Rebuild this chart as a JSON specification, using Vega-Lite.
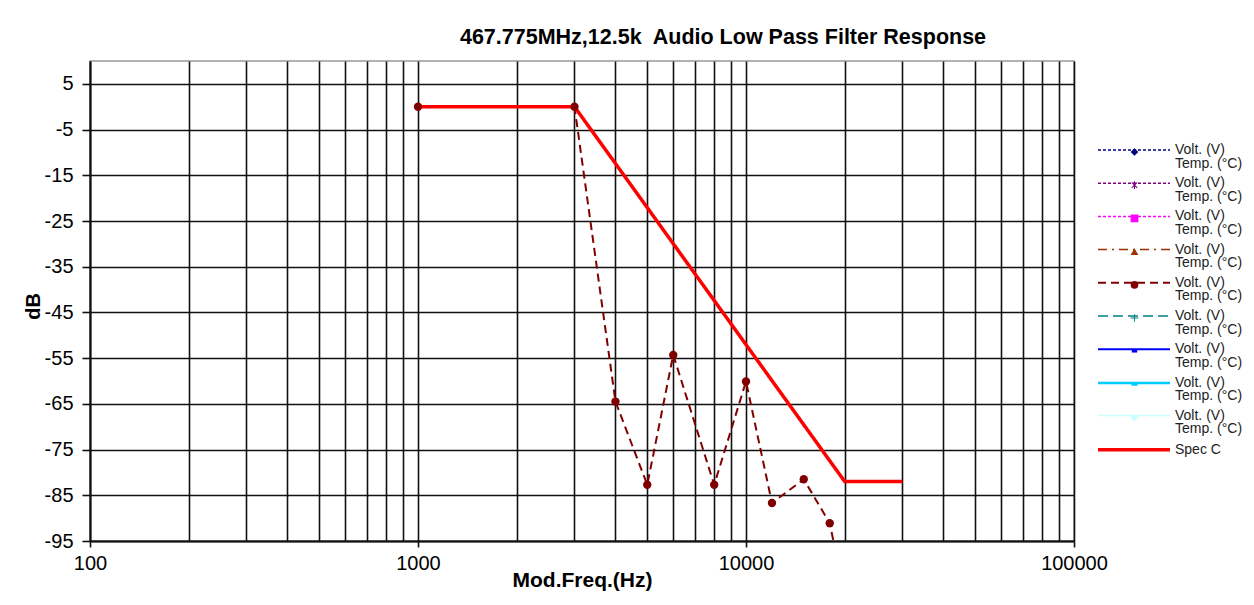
{
  "$schema": "https://vega.github.io/schema/vega-lite/v6.json",
  "width": 984,
  "height": 480,
  "autosize": {"type": "none"},
  "padding": {"left": 90, "top": 61, "right": 180, "bottom": 64},
  "background": "white",
  "title": {
    "text": "467.775MHz,12.5k\u00a0 Audio Low Pass Filter Response",
    "fontSize": 21.5,
    "fontWeight": "bold",
    "color": "#000",
    "anchor": "middle",
    "dx": 141,
    "offset": 13
  },
  "data": {
    "values": [
      {"freq": 1000, "db": 0, "series": "s5", "pseries": "p5"},
      {"freq": 3000, "db": 0, "series": "s5", "pseries": "p5"},
      {"freq": 4000, "db": -64.5, "series": "s5", "pseries": "p5"},
      {"freq": 5000, "db": -82.7, "series": "s5", "pseries": "p5"},
      {"freq": 6000, "db": -54.3, "series": "s5", "pseries": "p5"},
      {"freq": 8000, "db": -82.7, "series": "s5", "pseries": "p5"},
      {"freq": 10000, "db": -60.1, "series": "s5", "pseries": "p5"},
      {"freq": 12000, "db": -86.7, "series": "s5", "pseries": "p5"},
      {"freq": 15000, "db": -81.5, "series": "s5", "pseries": "p5"},
      {"freq": 18000, "db": -91.1, "series": "s5", "pseries": "p5"},
      {"freq": 20000, "db": -107, "series": "s5", "pseries": "p5"},
      {"freq": 1000, "db": 0, "series": "Spec C", "pseries": "p10"},
      {"freq": 3000, "db": 0, "series": "Spec C", "pseries": "p10"},
      {"freq": 20000, "db": -82, "series": "Spec C", "pseries": "p10"},
      {"freq": 30000, "db": -82, "series": "Spec C", "pseries": "p10"}
    ]
  },
  "encoding": {
    "x": {
      "field": "freq",
      "type": "quantitative",
      "scale": {"type": "log", "domain": [100, 100000], "nice": false},
      "axis": {
        "values": [100, 200, 300, 400, 500, 600, 700, 800, 900, 1000, 2000, 3000, 4000, 5000, 6000, 7000, 8000, 9000, 10000, 20000, 30000, 40000, 50000, 60000, 70000, 80000, 90000, 100000],
        "grid": true,
        "gridColor": "#111",
        "gridWidth": 1.6,
        "domainColor": "#111",
        "domainWidth": 2,
        "tickColor": "#111",
        "tickWidth": 1.6,
        "tickSize": 6,
        "tickOpacity": {"condition": {"test": "indexof([100,1000,10000,100000], datum.value) >= 0", "value": 1}, "value": 0},
        "labelExpr": "indexof([100,1000,10000,100000], datum.value) >= 0 ? '' + datum.value : ''",
        "labelFontSize": 20,
        "labelColor": "#000",
        "labelPadding": 6,
        "labelFlush": false,
        "labelOverlap": false,
        "title": "Mod.Freq.(Hz)",
        "titleFontSize": 21,
        "titleFontWeight": "bold",
        "titleColor": "#000",
        "titleY": 39,
        "titleBaseline": "middle"
      }
    },
    "y": {
      "field": "db",
      "type": "quantitative",
      "scale": {"domain": [-95, 10], "nice": false, "zero": false},
      "axis": {
        "values": [-95, -85, -75, -65, -55, -45, -35, -25, -15, -5, 5],
        "grid": true,
        "gridColor": "#111",
        "gridWidth": 1.6,
        "domainColor": "#111",
        "domainWidth": 2,
        "tickColor": "#111",
        "tickWidth": 1.6,
        "tickSize": 8,
        "labelExpr": "'' + datum.value",
        "labelFontSize": 20,
        "labelColor": "#000",
        "labelPadding": 9,
        "labelFlush": false,
        "labelOverlap": false,
        "title": "dB",
        "titleFontSize": 20,
        "titleFontWeight": "bold",
        "titleColor": "#000",
        "titleX": -57,
        "titleY": 245,
        "titleAngle": 270,
        "titleAlign": "center",
        "titleBaseline": "middle"
      }
    }
  },
  "layer": [
    {
      "mark": {"type": "line", "clip": true},
      "encoding": {
        "stroke": {
          "field": "series",
          "type": "nominal",
          "scale": {
            "domain": ["s1", "s2", "s3", "s4", "s5", "s6", "s7", "s8", "s9", "Spec C"],
            "range": ["#000080", "#800080", "#FF00FF", "#993300", "#800000", "#008080", "#0000FF", "#00CCFF", "#CCFFFF", "#FF0000"]
          },
          "legend": {"orient": "none", "legendX": 1006, "legendY": 82, "rowPadding": 5.2, "title": null, "symbolType": "M-1,0L11,0", "symbolSize": 144, "labelOffset": 63, "labelExpr": "datum.label == 'Spec C' ? 'Spec C' : ['Volt. (V)', 'Temp. (°C)']"}
        },
        "strokeDash": {
          "field": "series",
          "type": "nominal",
          "scale": {
            "domain": ["s1", "s2", "s3", "s4", "s5", "s6", "s7", "s8", "s9", "Spec C"],
            "range": [[3, 2], [3, 2], [3, 2], [9, 5, 2, 5], [8, 5], [10, 5], [1, 0], [1, 0], [1, 0], [1, 0]]
          },
          "legend": {"orient": "none", "legendX": 1006, "legendY": 82, "rowPadding": 5.2, "title": null, "symbolType": "M-1,0L11,0", "symbolSize": 144, "labelOffset": 63, "labelExpr": "datum.label == 'Spec C' ? 'Spec C' : ['Volt. (V)', 'Temp. (°C)']"}
        },
        "strokeWidth": {
          "field": "series",
          "type": "nominal",
          "scale": {
            "type": "ordinal",
            "domain": ["s1", "s2", "s3", "s4", "s5", "s6", "s7", "s8", "s9", "Spec C"],
            "range": [1.5, 1.5, 1.5, 1.5, 2, 1.5, 2, 2.5, 1.5, 3.5]
          },
          "legend": {"orient": "none", "legendX": 1006, "legendY": 82, "rowPadding": 5.2, "title": null, "symbolType": "M-1,0L11,0", "symbolSize": 144, "labelOffset": 63, "labelExpr": "datum.label == 'Spec C' ? 'Spec C' : ['Volt. (V)', 'Temp. (°C)']"}
        }
      }
    },
    {
      "transform": [{"filter": "datum.series == 's5'"}],
      "mark": {"type": "point", "filled": true, "size": 70, "opacity": 1, "clip": true},
      "encoding": {
        "fill": {
          "field": "pseries",
          "type": "nominal",
          "scale": {
            "domain": ["p1", "p2", "p3", "p4", "p5", "p6", "p7", "p8", "p9", "p10"],
            "range": ["#000080", "#800080", "#FF00FF", "#993300", "#800000", "#008080", "#0000FF", "#00CCFF", "#CCFFFF", "rgba(0,0,0,0)"]
          },
          "legend": {"orient": "none", "legendX": 1037.5, "legendY": 84, "rowPadding": 19.2, "title": null, "symbolSize": 60, "labelExpr": "''"}
        },
        "shape": {
          "field": "pseries",
          "type": "nominal",
          "scale": {
            "domain": ["p1", "p2", "p3", "p4", "p5", "p6", "p7", "p8", "p9", "p10"],
            "range": [
              "diamond",
              "M-0.15,-1L0.15,-1L0.15,1L-0.15,1Z M-0.8,-0.62L-0.62,-0.8L0.8,0.62L0.62,0.8Z M0.62,-0.8L0.8,-0.62L-0.62,0.8L-0.8,0.62Z",
              "square",
              "triangle-up",
              "circle",
              "M-1,-0.12L1,-0.12L1,0.12L-1,0.12Z M-0.12,-1L0.12,-1L0.12,1L-0.12,1Z",
              "M-0.7,-0.35L0.7,-0.35L0.7,0.35L-0.7,0.35Z",
              "M-0.8,-0.35L0.8,-0.35L0.8,0.35L-0.8,0.35Z",
              "diamond",
              "circle"
            ]
          },
          "legend": {"orient": "none", "legendX": 1037.5, "legendY": 84, "rowPadding": 19.2, "title": null, "symbolSize": 60, "labelExpr": "''"}
        }
      }
    }
  ],
  "config": {
    "font": "Liberation Sans",
    "view": {"stroke": "#999", "strokeWidth": 1.5},
    "style": {"guide-label": {"lineHeight": 13.5}},
    "legend": {
      "labelFontSize": 14,
      "labelColor": "#222",
      "labelBaseline": "middle",
      "labelLimit": 200,
      "gridAlign": "all",
      "padding": 0,
      "symbolOpacity": 1
    }
  }
}
